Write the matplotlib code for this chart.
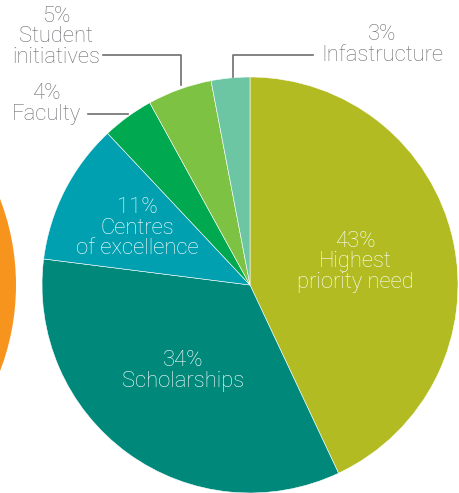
import matplotlib
matplotlib.use("Agg")
import matplotlib.pyplot as plt
from matplotlib.patches import Circle

# slices, clockwise from 12 o'clock
labels = ["Highest\npriority need", "Scholarships", "Centres\nof excellence",
          "Faculty", "Student\ninitiatives", "Infastructure"]
values = [43, 34, 11, 4, 5, 3]
colors = ["#B2BC22", "#00897B", "#00A0B0", "#00A84F", "#7DC243", "#6CC6A4"]

W, H = 459, 493
fig = plt.figure(figsize=(W / 100, H / 100), dpi=100)
ax = fig.add_axes([0, 0, 1, 1])

fam = ["Roboto", "DejaVu Sans"]
grey = "#6D6E71"
fs = 15.8
wt = "light"

def py(y):
    # pixel row -> data y
    return H - y

# partial orange circle on the left edge
ax.add_patch(Circle((16 - 240, py(285)), 240, color="#F7941D", lw=0))

cx, cy, r = 250, py(285), 208
ax.pie(values, colors=colors, startangle=90, counterclock=False,
       center=(cx, cy), radius=r, frame=True,
       wedgeprops=dict(linewidth=0.4, edgecolor="white"))
ax.set_xlim(0, W)
ax.set_ylim(0, H)
ax.set_aspect("equal")
ax.axis("off")

# inside labels
inside = [(0, 355, 262), (1, 183, 371), (2, 137, 228)]
for i, x, y in inside:
    ax.text(x, py(y), f"{values[i]}%\n{labels[i]}", ha="center", va="center",
            color="white", fontsize=fs, family=fam, fontweight=wt,
            linespacing=0.95)

# outside labels with leader lines
ax.text(56, py(37), f"{values[4]}%\n{labels[4]}", ha="center", va="center",
        color=grey, fontsize=fs, family=fam, fontweight=wt, linespacing=0.95)
ax.plot([103, 181, 181], [py(55), py(55), py(85)], color=grey, lw=1.2)

ax.text(46, py(104), f"{values[3]}%\n{labels[3]}", ha="center", va="center",
        color=grey, fontsize=fs, family=fam, fontweight=wt, linespacing=0.95)
ax.plot([88, 128], [py(114), py(114)], color=grey, lw=1.2)

ax.text(382, py(45), f"{values[5]}%\n{labels[5]}", ha="center", va="center",
        color=grey, fontsize=fs, family=fam, fontweight=wt, linespacing=0.95)
ax.plot([233, 233, 313], [py(77), py(55), py(55)], color=grey, lw=1.2)

fig.savefig("out.png", dpi=100)
